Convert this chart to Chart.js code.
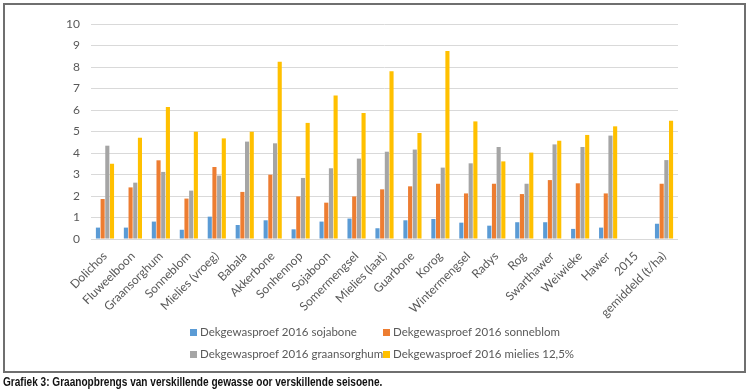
<!DOCTYPE html>
<html>
<head>
<meta charset="utf-8">
<script src="https://cdn.jsdelivr.net/npm/chart.js@4.4.1/dist/chart.umd.min.js"></script>
<style>
  body { margin: 0; background: #fff; }
  #wrap { position: relative; width: 750px; height: 391px; overflow: hidden; }
  #frame { position: absolute; left: 3px; top: 3px; width: 739px; height: 366px; border: 2px solid #6f6f6f; }
  #chart-box { position: absolute; left: 0; top: 0; width: 750px; height: 320px; }
  #legend { position: absolute; left: 0; top: 0; width: 750px; height: 391px; pointer-events: none; }
  .lg-item { position: absolute; font-family: Lato, "Open Sans", sans-serif; font-size: 11.5px; color: #595959; white-space: nowrap; line-height: 14px; }
  .lg-item span { display: inline-block; width: 7px; height: 7px; margin-right: 3px; vertical-align: 0px; }
  #caption { position: absolute; left: 3px; top: 375px; font-family: "Liberation Sans", Arial, sans-serif; font-weight: bold; font-size: 12px; color: #111; white-space: nowrap; transform: scaleX(0.84); transform-origin: left top; }
</style>
</head>
<body>
<div id="wrap">
  <div id="frame"></div>
  <div id="chart-box"><canvas id="yield-chart" width="750" height="320"></canvas></div>
  <div id="legend"></div>
  <div id="caption">Grafiek 3: Graanopbrengs van verskillende gewasse oor verskillende seisoene.</div>
</div>
<script>
// 카테고리 (gewasse)
const crops = ['Dolichos', 'Fluweelboon', 'Graansorghum', 'Sonneblom', 'Mielies (vroeg)', 'Babala',
  'Akkerbone', 'Sonhennop', 'Sojaboon', 'Somermengsel', 'Mielies (laat)', 'Guarbone', 'Korog',
  'Wintermengsel', 'Radys', 'Rog', 'Swarthawer', 'Weiwieke', 'Hawer', '2015', 'gemiddeld (t/ha)'];

// 시리즈 값 (t/ha)
const sojabone = [0.53, 0.53, 0.81, 0.43, 1.04, 0.65, 0.87, 0.45, 0.81, 0.95, 0.50, 0.87, 0.93, 0.76, 0.62, 0.78, 0.78, 0.47, 0.53, null, 0.71];
const sonneblom = [1.86, 2.40, 3.66, 1.88, 3.35, 2.19, 2.99, 1.98, 1.69, 1.98, 2.31, 2.45, 2.57, 2.12, 2.57, 2.09, 2.74, 2.59, 2.12, null, 2.57];
const graansorghum = [4.34, 2.62, 3.12, 2.25, 2.95, 4.53, 4.45, 2.84, 3.29, 3.74, 4.06, 4.16, 3.32, 3.52, 4.28, 2.57, 4.40, 4.28, 4.81, null, 3.67];
const mielies = [3.50, 4.71, 6.14, 4.99, 4.68, 4.99, 8.25, 5.40, 6.68, 5.86, 7.80, 4.93, 8.74, 5.47, 3.61, 4.02, 4.57, 4.84, 5.24, null, 5.50];

// 축 눈금
const yTicks = [0, 1, 2, 3, 4, 5, 6, 7, 8, 9, 10];

const seriesNames = ['Dekgewasproef 2016 sojabone', 'Dekgewasproef 2016 sonneblom',
  'Dekgewasproef 2016 graansorghum', 'Dekgewasproef 2016 mielies 12,5%'];
const seriesColors = ['#5b9bd5', '#ed7d31', '#a5a5a5', '#ffc000'];
const seriesData = [sojabone, sonneblom, graansorghum, mielies];

const datasets = seriesData.map((data, i) => ({
  label: seriesNames[i],
  data: data,
  backgroundColor: seriesColors[i],
  borderWidth: 0,
  categoryPercentage: 0.67,
  barPercentage: 0.88
}));

const ctx = document.getElementById('yield-chart').getContext('2d');
const yieldChart = new Chart(ctx, {
  type: 'bar',
  data: { labels: crops, datasets: datasets },
  options: {
    responsive: false,
    animation: false,
    layout: { padding: { top: 24, right: 72, left: 0, bottom: 0 } },
    plugins: { legend: { display: false }, tooltip: { enabled: false } },
    scales: {
      x: {
        grid: { display: false },
        border: { display: false },
        ticks: {
          autoSkip: false,
          maxRotation: 45,
          minRotation: 45,
          padding: 2,
          color: '#595959',
          font: { family: 'Lato, "Open Sans", sans-serif', size: 12 }
        },
        afterFit: scale => { scale.height = 81; }
      },
      y: {
        min: 0,
        max: 10,
        afterBuildTicks: scale => { scale.ticks = yTicks.map(v => ({ value: v })); },
        grid: { color: '#d9d9d9', lineWidth: 1, drawTicks: false },
        border: { display: false },
        ticks: {
          padding: 11,
          color: '#595959',
          font: { family: 'Lato, "Open Sans", sans-serif', size: 12 }
        },
        afterFit: scale => { scale.width = 91; }
      }
    }
  }
});

// 범례 (2열 그리드)
const legendEl = document.getElementById('legend');
const legendPos = [[190, 325], [383, 325], [190, 347], [383, 347]];
yieldChart.data.datasets.forEach((ds, i) => {
  const item = document.createElement('div');
  item.className = 'lg-item';
  item.style.left = legendPos[i][0] + 'px';
  item.style.top = legendPos[i][1] + 'px';
  item.innerHTML = `<span style="background:${ds.backgroundColor}"></span>${ds.label}`;
  legendEl.appendChild(item);
});
</script>
</body>
</html>
